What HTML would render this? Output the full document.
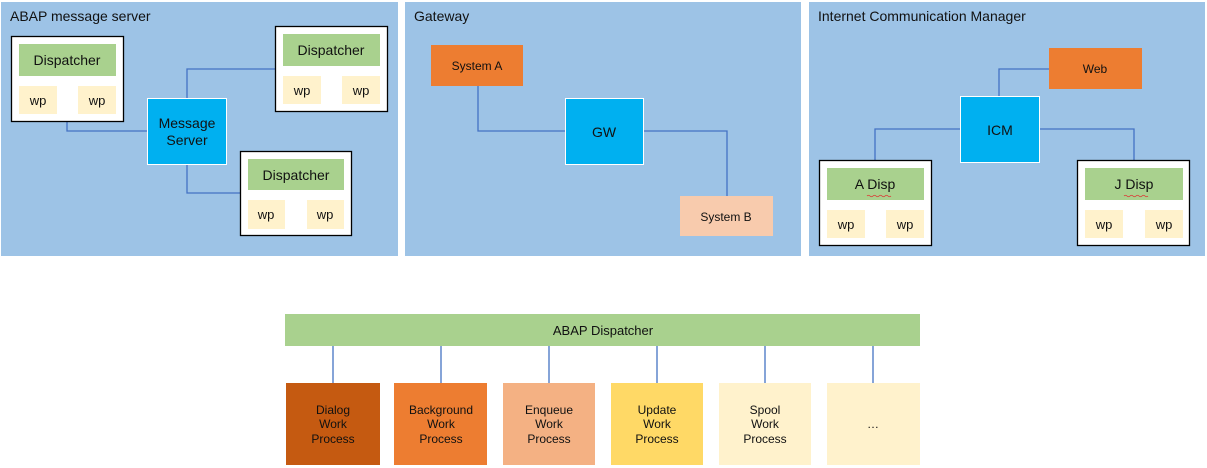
<!DOCTYPE html>
<html><head><meta charset="utf-8"><style>
html,body{margin:0;padding:0;background:#fff;width:1207px;height:468px;overflow:hidden}
svg{display:block}
text{font-family:"Liberation Sans","Noto Sans CJK JP",sans-serif;fill:#111}
</style></head><body>
<svg width="1207" height="468" viewBox="0 0 1207 468" xmlns="http://www.w3.org/2000/svg">
<g fill="#9DC3E6">
<rect x="1" y="2" width="397" height="254"/>
<rect x="405" y="2" width="396" height="254"/>
<rect x="809" y="2" width="396" height="254"/>
</g>
<g font-size="14">
<text x="10" y="21">ABAP message server</text>
<text x="414" y="21">Gateway</text>
<text x="818" y="21">Internet Communication Manager</text>
</g>
<g stroke="#4472C4" stroke-width="1.3" fill="none">
<!-- panel1 -->
<polyline points="67,122 67,131 147,131"/>
<polyline points="187,98 187,69 275,69"/>
<polyline points="187,164 187,193 240,193"/>
<line x1="38" y1="76" x2="38" y2="86"/><line x1="97" y1="76" x2="97" y2="86"/>
<line x1="302" y1="66" x2="302" y2="76"/><line x1="361" y1="66" x2="361" y2="76"/>
<line x1="266" y1="190" x2="266" y2="200"/><line x1="325" y1="190" x2="325" y2="200"/>
<!-- panel2 -->
<polyline points="478,86 478,131 566,131"/>
<polyline points="643,131 727,131 727,196"/>
<!-- panel3 -->
<polyline points="999,96 999,69 1049,69"/>
<polyline points="960,129 875,129 875,160"/>
<polyline points="1040,129 1134,129 1134,160"/>
<line x1="845" y1="200" x2="845" y2="210"/><line x1="904" y1="200" x2="904" y2="210"/>
<line x1="1104" y1="200" x2="1104" y2="210"/><line x1="1163" y1="200" x2="1163" y2="210"/>
<!-- bottom -->
<line x1="333" y1="346" x2="333" y2="383"/><line x1="441" y1="346" x2="441" y2="383"/>
<line x1="549" y1="346" x2="549" y2="383"/><line x1="657" y1="346" x2="657" y2="383"/>
<line x1="765" y1="346" x2="765" y2="383"/><line x1="873" y1="346" x2="873" y2="383"/>
</g>
<!-- containers -->
<g fill="#fff" stroke="#000" stroke-width="1.3">
<rect x="11.5" y="36.5" width="112" height="85"/>
<rect x="275.5" y="26.5" width="112" height="85"/>
<rect x="240.5" y="151.5" width="111" height="84"/>
<rect x="819.5" y="160.5" width="112" height="85"/>
<rect x="1077.5" y="160.5" width="112" height="85"/>
</g>
<g fill="#A9D18E">
<rect x="19" y="44" width="97" height="32"/>
<rect x="283" y="34" width="97" height="32"/>
<rect x="248" y="159" width="96" height="31"/>
<rect x="827" y="168" width="97" height="32"/>
<rect x="1085" y="168" width="98" height="32"/>
<rect x="285" y="314" width="635" height="32"/>
</g>
<g fill="#FFF2CC">
<rect x="19" y="86" width="38" height="28"/><rect x="78" y="86" width="38" height="28"/>
<rect x="283" y="76" width="38" height="28"/><rect x="342" y="76" width="38" height="28"/>
<rect x="248" y="200" width="37" height="29"/><rect x="307" y="200" width="37" height="29"/>
<rect x="827" y="210" width="38" height="28"/><rect x="886" y="210" width="38" height="28"/>
<rect x="1085" y="210" width="38" height="28"/><rect x="1145" y="210" width="38" height="28"/>
</g>
<g fill="#00B0F0" stroke="#fff" stroke-width="1">
<rect x="147.5" y="98.5" width="79" height="66"/>
<rect x="565.5" y="98.5" width="78" height="66"/>
<rect x="960.5" y="96.5" width="79" height="66"/>
</g>
<rect x="431" y="45" width="92" height="41" fill="#ED7D31"/>
<rect x="680" y="196" width="93" height="40" fill="#F8CBAD"/>
<rect x="1049" y="48" width="93" height="41" fill="#ED7D31"/>
<rect x="286" y="383" width="94" height="82" fill="#C55A11"/>
<rect x="394" y="383" width="93" height="82" fill="#ED7D31"/>
<rect x="503" y="383" width="92" height="82" fill="#F4B183"/>
<rect x="611" y="383" width="92" height="82" fill="#FFD966"/>
<rect x="719" y="383" width="92" height="82" fill="#FFF2CC"/>
<rect x="827" y="383" width="93" height="82" fill="#FFF2CC"/>
<g text-anchor="middle" font-size="14">
<text x="67" y="65">Dispatcher</text>
<text x="331" y="55">Dispatcher</text>
<text x="296" y="180">Dispatcher</text>
<text x="187" y="128">Message</text><text x="187" y="145">Server</text>
<text x="604" y="137">GW</text>
<text x="1000" y="135">ICM</text>
<text x="875" y="189">A Disp</text>
<text x="1134" y="189">J Disp</text>
</g>
<g text-anchor="middle" font-size="13">
<text x="38" y="105">wp</text><text x="97" y="105">wp</text>
<text x="302" y="95">wp</text><text x="361" y="95">wp</text>
<text x="266" y="219">wp</text><text x="325" y="219">wp</text>
<text x="846" y="229">wp</text><text x="905" y="229">wp</text>
<text x="1104" y="229">wp</text><text x="1164" y="229">wp</text>
<text x="603" y="335">ABAP Dispatcher</text>
</g>
<g text-anchor="middle" font-size="12">
<text x="477" y="70">System A</text>
<text x="726" y="221">System B</text>
<text x="1095" y="73">Web</text>
<text x="333" y="414">Dialog</text><text x="333" y="428">Work</text><text x="333" y="443">Process</text>
<text x="441" y="414">Background</text><text x="441" y="428">Work</text><text x="441" y="443">Process</text>
<text x="549" y="414">Enqueue</text><text x="549" y="428">Work</text><text x="549" y="443">Process</text>
<text x="657" y="414">Update</text><text x="657" y="428">Work</text><text x="657" y="443">Process</text>
<text x="765" y="414">Spool</text><text x="765" y="428">Work</text><text x="765" y="443">Process</text>
<text x="873" y="428">…</text>
</g>
<g stroke="#e03030" stroke-width="0.8" fill="none">
<path d="M867 196 q1.5 -1.5 3 0 t3 0 t3 0 t3 0 t3 0 t3 0 t3 0 t3 0"/>
<path d="M1124 196 q1.5 -1.5 3 0 t3 0 t3 0 t3 0 t3 0 t3 0 t3 0 t3 0"/>
</g>
</svg>
</body></html>
